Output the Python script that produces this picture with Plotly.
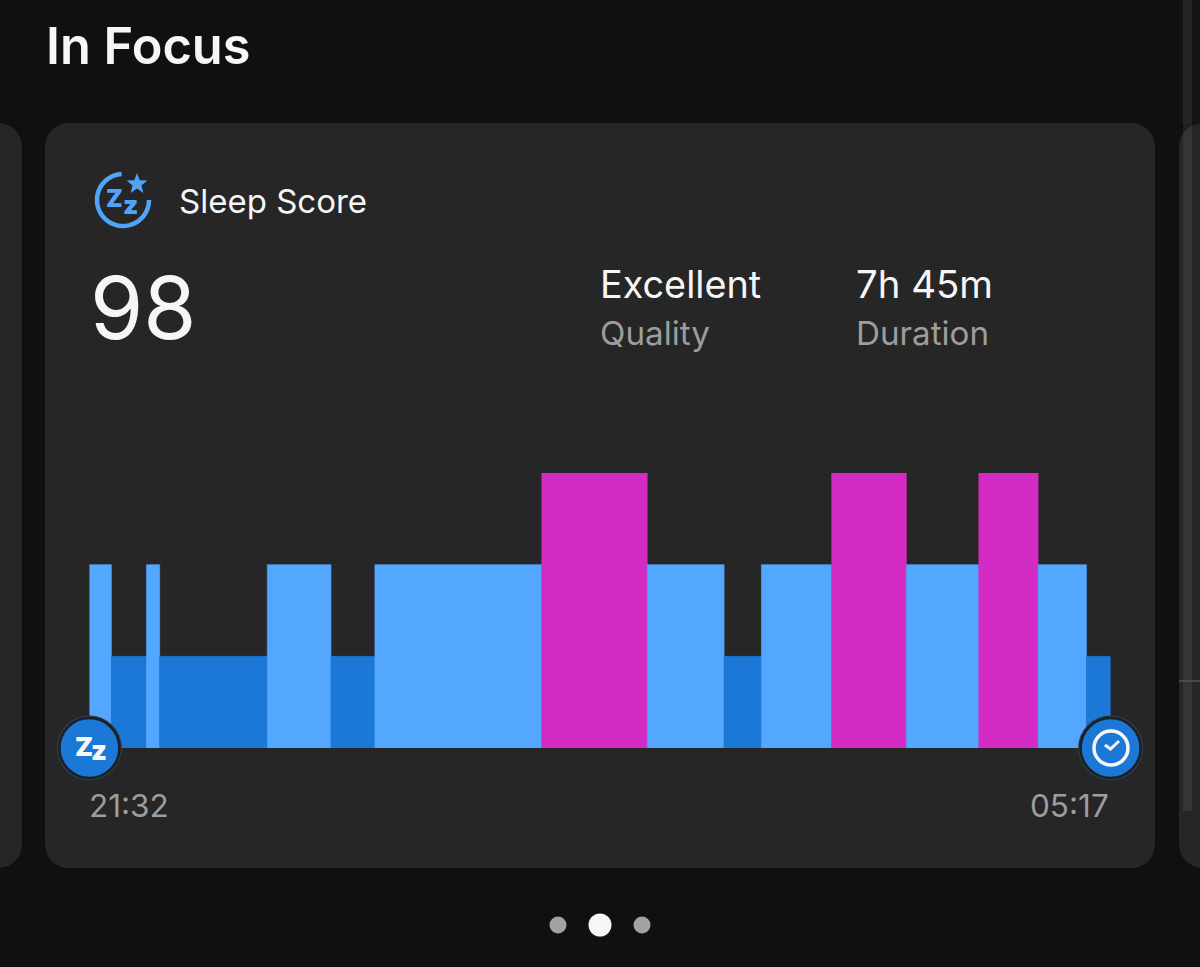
import math
import plotly.graph_objects as go

WIDTH, HEIGHT = 1200, 967

# Sleep stages in order, with their length in minutes from bedtime
stage_names = ["Light", "Deep", "Light", "Deep", "Light", "Deep", "Light", "REM",
               "Light", "Deep", "Light", "REM", "Light", "REM", "Light", "Deep"]
stage_minutes = [10, 16, 6, 49, 29, 20, 76, 48, 35, 17, 32, 34, 33, 27, 22, 11]
stage_levels = {"Deep": 1, "Light": 2, "REM": 3}
stage_colors = {"Deep": "#1b78d6", "Light": "#53a7ff", "REM": "#d32bc3"}

time_labels = ["21:32", "05:17"]
score_value = "98"
quality_value, quality_label = "Excellent", "Quality"
duration_value, duration_label = "7h 45m", "Duration"

PAGE = "#101010"
CARD = "#262626"
WHITE = "#f6f6f6"
GREY = "#9d9d9d"
ICON_BLUE = "#4fa5f7"
BADGE_BLUE = "#1b78d6"
FONT = "Inter"


def px(x):
    return x / WIDTH


def py(y):
    return 1 - y / HEIGHT


def path(points, closed=False):
    body = "L".join(f"{px(x):.5f},{py(y):.5f}" for x, y in points)
    return "M" + body + ("Z" if closed else "")


def rounded_rect(x0, y0, x1, y1, r):
    k = r * 0.45
    seg = [
        ("M", [(x0 + r, y0)]), ("L", [(x1 - r, y0)]),
        ("C", [(x1 - k, y0), (x1, y0 + k), (x1, y0 + r)]), ("L", [(x1, y1 - r)]),
        ("C", [(x1, y1 - k), (x1 - k, y1), (x1 - r, y1)]), ("L", [(x0 + r, y1)]),
        ("C", [(x0 + k, y1), (x0, y1 - k), (x0, y1 - r)]), ("L", [(x0, y0 + r)]),
        ("C", [(x0, y0 + k), (x0 + k, y0), (x0 + r, y0)]),
    ]
    out = ""
    for cmd, pts in seg:
        out += cmd + " ".join(f"{px(a):.5f},{py(b):.5f}" for a, b in pts)
    return out + "Z"


def star_points(cx, cy, outer, inner):
    pts = []
    for i in range(10):
        r = outer if i % 2 == 0 else inner
        a = -math.pi / 2 + i * math.pi / 5
        pts.append((cx + r * math.cos(a), cy + r * math.sin(a)))
    return pts


def arc_points(cx, cy, r, start_deg, end_deg, n=60):
    return [
        (cx + r * math.cos(math.radians(start_deg + (end_deg - start_deg) * i / n)),
         cy + r * math.sin(math.radians(start_deg + (end_deg - start_deg) * i / n)))
        for i in range(n + 1)
    ]


# Bars laid out on a minutes-since-bedtime axis
mids = []
elapsed = 0
for m in stage_minutes:
    mids.append(elapsed + m / 2)
    elapsed += m
total_minutes = elapsed
bar_colors = [stage_colors[s] for s in stage_names]

fig = go.Figure()
fig.add_trace(go.Bar(
    x=mids,
    y=[stage_levels[s] for s in stage_names],
    width=stage_minutes,
    marker=dict(color=bar_colors, line=dict(width=0.6, color=bar_colors)),
    hoverinfo="skip",
    showlegend=False,
))

# Bedtime and wake-up badges sit on the two ends of the baseline
ends = [0, total_minutes]
fig.add_trace(go.Scatter(
    x=ends, y=[0, 0], mode="markers", cliponaxis=False, showlegend=False, hoverinfo="skip",
    marker=dict(size=65, color="#2c3b4e", line=dict(width=0)),
))
fig.add_trace(go.Scatter(
    x=ends, y=[0, 0], mode="markers", cliponaxis=False, showlegend=False, hoverinfo="skip",
    marker=dict(size=60, color=BADGE_BLUE, line=dict(width=2.5, color="#1c1f24")),
))

shapes = [
    # Cards: the centre one plus the neighbours peeking in on each side
    dict(type="path", path=rounded_rect(-60, 123, 22, 868, 24), fillcolor=CARD,
         line=dict(width=0), layer="below", xref="paper", yref="paper"),
    dict(type="path", path=rounded_rect(45, 123, 1155, 868, 24), fillcolor=CARD,
         line=dict(width=0), layer="below", xref="paper", yref="paper"),
    dict(type="path", path=rounded_rect(1179, 123, 1290, 868, 24), fillcolor=CARD,
         line=dict(width=0), layer="below", xref="paper", yref="paper"),
    # Soft column on the right-hand neighbour
    dict(type="rect", x0=px(1183), x1=px(1192), y0=py(811), y1=py(0),
         fillcolor="rgba(255,255,255,0.07)", line=dict(width=0), layer="below",
         xref="paper", yref="paper"),
    dict(type="rect", x0=px(1180), x1=px(1200), y0=py(123), y1=py(0),
         fillcolor="rgba(255,255,255,0.025)", line=dict(width=0), layer="below",
         xref="paper", yref="paper"),
    dict(type="line", x0=px(1179), x1=px(1200), y0=py(681), y1=py(681),
         line=dict(color="#555555", width=1.5), layer="below", xref="paper", yref="paper"),
    # Sleep icon: open ring with a star in the gap
    dict(type="path", path=path(arc_points(123, 200, 26, -93, -360)),
         line=dict(color=ICON_BLUE, width=4.5), fillcolor="rgba(0,0,0,0)", layer="above",
         xref="paper", yref="paper"),
    dict(type="path", path=path(star_points(137, 184, 11, 4.6), closed=True),
         fillcolor=ICON_BLUE, line=dict(width=0), layer="above", xref="paper", yref="paper"),
    # Clock face inside the wake-up badge
    dict(type="circle", x0=px(1111 - 17), x1=px(1111 + 17), y0=py(748 + 17), y1=py(748 - 17),
         line=dict(color=WHITE, width=3.5), fillcolor="rgba(0,0,0,0)", layer="above",
         xref="paper", yref="paper"),
    dict(type="path", path=path([(1105, 745), (1110.5, 749), (1119, 741)]),
         line=dict(color=WHITE, width=3), fillcolor="rgba(0,0,0,0)", layer="above",
         xref="paper", yref="paper"),
    # Page indicator
    dict(type="circle", x0=px(558 - 8.5), x1=px(558 + 8.5), y0=py(925 + 8.5), y1=py(925 - 8.5),
         fillcolor="#a2a2a2", line=dict(width=0), xref="paper", yref="paper"),
    dict(type="circle", x0=px(600 - 11.5), x1=px(600 + 11.5), y0=py(925 + 11.5), y1=py(925 - 11.5),
         fillcolor=WHITE, line=dict(width=0), xref="paper", yref="paper"),
    dict(type="circle", x0=px(642 - 8.5), x1=px(642 + 8.5), y0=py(925 + 8.5), y1=py(925 - 8.5),
         fillcolor="#a2a2a2", line=dict(width=0), xref="paper", yref="paper"),
]


def label(text, x, y, size, color, weight=400, anchor="left"):
    return dict(text=text, x=px(x), y=py(y), xref="paper", yref="paper", showarrow=False,
                xanchor=anchor, yanchor="middle", align=anchor,
                font=dict(family=FONT, size=size, color=color, weight=weight))


annotations = [
    label("In Focus", 44, 46, 50.5, WHITE, 600),
    label("Sleep Score", 177, 201, 33, WHITE),
    label(score_value, 88, 308, 86, WHITE),
    label(quality_value, 598, 284, 37.8, WHITE),
    label(quality_label, 598, 333, 33.2, GREY),
    label(duration_value, 854, 284, 38.4, WHITE),
    label(duration_label, 854, 333, 33.2, GREY),
    label("Z", 114.5, 198.5, 24, ICON_BLUE, 900, "center"),
    label("z", 130.5, 204, 26, ICON_BLUE, 900, "center"),
    label("Z", 83.5, 746.5, 26, WHITE, 900, "center"),
    label("z", 98.5, 750, 27, WHITE, 900, "center"),
    dict(text=time_labels[0], x=ends[0], y=py(805.5), xref="x", yref="paper", showarrow=False,
         xanchor="left", yanchor="middle", xshift=-2,
         font=dict(family=FONT, size=31.5, color=GREY)),
    dict(text=time_labels[1], x=ends[1], y=py(805.5), xref="x", yref="paper", showarrow=False,
         xanchor="right", yanchor="middle", xshift=0,
         font=dict(family=FONT, size=31.5, color=GREY)),
]

fig.update_layout(
    width=WIDTH, height=HEIGHT,
    margin=dict(l=0, r=0, t=0, b=0),
    paper_bgcolor=PAGE, plot_bgcolor="rgba(0,0,0,0)",
    barmode="overlay",
    shapes=shapes, annotations=annotations,
    xaxis=dict(domain=[px(89.4), px(1110.6)], range=[0, total_minutes], visible=False, fixedrange=True),
    yaxis=dict(domain=[py(748), py(473)], range=[0, 3], visible=False, fixedrange=True),
)

fig.write_html("out.html", config=dict(displayModeBar=False))
